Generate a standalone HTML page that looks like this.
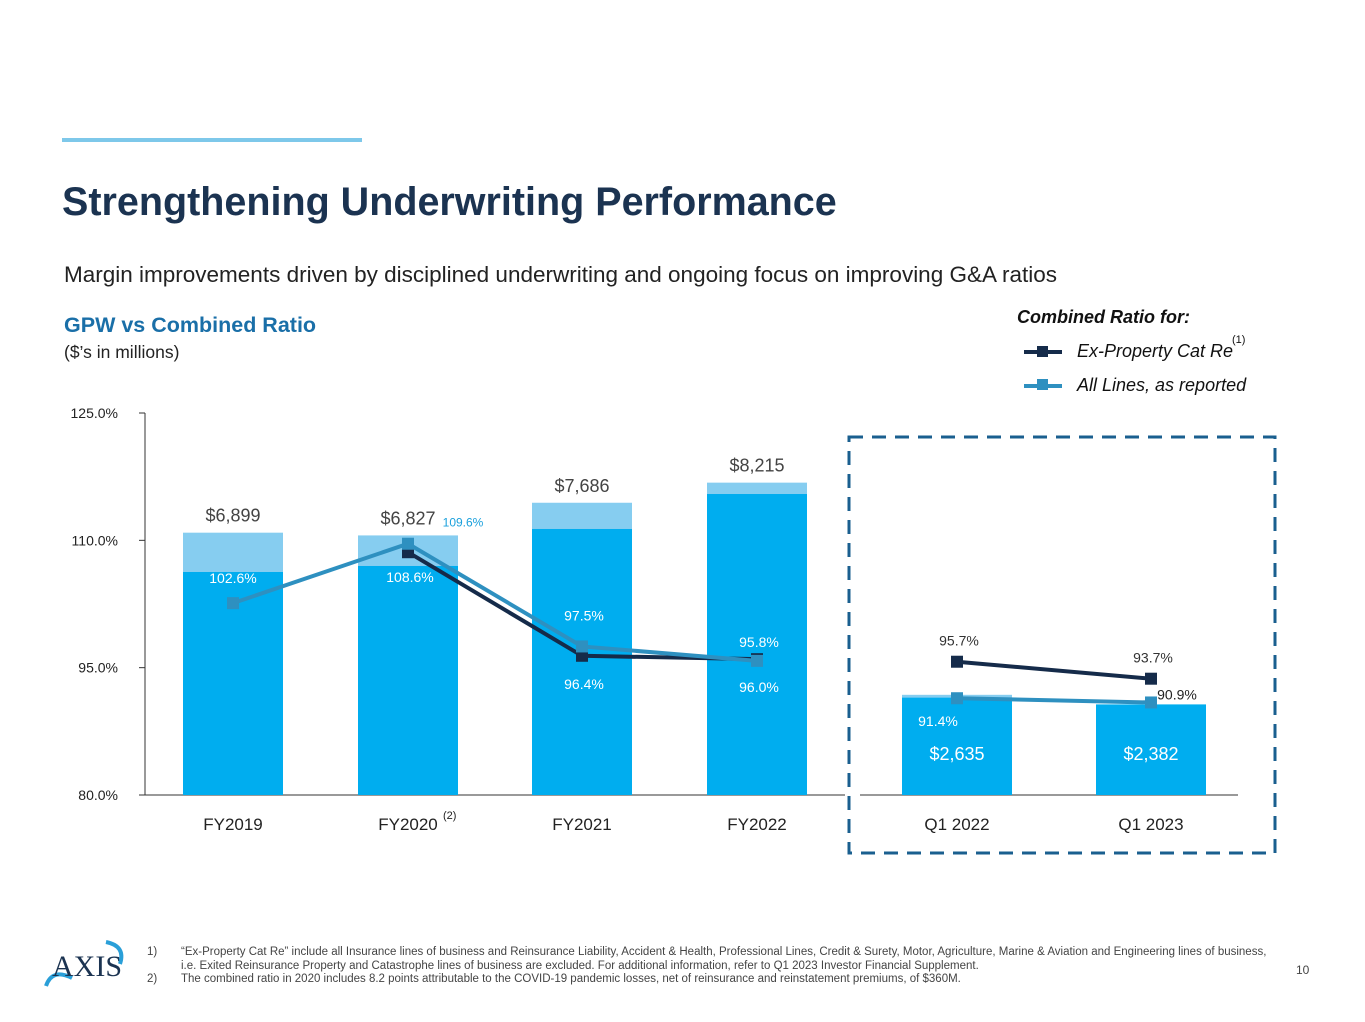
<!DOCTYPE html>
<html><head><meta charset="utf-8">
<style>
body{margin:0;width:1365px;height:1022px;background:#fff;font-family:"Liberation Sans",sans-serif;position:relative;overflow:hidden}
.abs{position:absolute}
</style></head><body>
<div class="abs" style="left:62px;top:138px;width:300px;height:4px;background:#7ec8ea"></div>
<div class="abs" style="left:62px;top:180px;font-size:39.5px;font-weight:bold;color:#1b3351">Strengthening Underwriting Performance</div>
<div class="abs" style="left:64px;top:262px;font-size:22.5px;color:#222">Margin improvements driven by disciplined underwriting and ongoing focus on improving G&amp;A ratios</div>
<div class="abs" style="left:64px;top:313px;font-size:21.5px;font-weight:bold;color:#1a6fa8">GPW vs Combined Ratio</div>
<div class="abs" style="left:64px;top:342px;font-size:17.5px;color:#222">($’s in millions)</div>
<div class="abs" style="left:1017px;top:307px;font-size:18px;font-weight:bold;font-style:italic;color:#111">Combined Ratio for:</div>
<div class="abs" style="left:1024px;top:340px;width:280px;height:24px">
 <div class="abs" style="left:0;top:10px;width:38px;height:4px;background:#152b4a"></div>
 <div class="abs" style="left:13px;top:6px;width:11px;height:11px;background:#152b4a"></div>
 <div class="abs" style="left:53px;top:1px;font-size:18px;font-style:italic;color:#111">Ex-Property Cat Re</div>
 <div class="abs" style="left:208px;top:-6px;font-size:11px;color:#111">(1)</div>
</div>
<div class="abs" style="left:1024px;top:374px;width:280px;height:24px">
 <div class="abs" style="left:0;top:10px;width:38px;height:4px;background:#2e90c0"></div>
 <div class="abs" style="left:13px;top:5px;width:11px;height:11px;background:#2e90c0"></div>
 <div class="abs" style="left:53px;top:1px;font-size:18px;font-style:italic;color:#111">All Lines, as reported</div>
</div>
<svg class="abs" style="left:0;top:0" width="1365" height="1022" id="chart"></svg>
<div class="abs" style="left:42px;top:938px;width:84px;height:52px">
 <svg width="84" height="52"><path d="M4 48 Q10 30 30 40" stroke="#2a9fd8" stroke-width="4" fill="none"/><path d="M64 4 Q84 8 78 26" stroke="#2a9fd8" stroke-width="4" fill="none"/>
 <text x="10" y="38" font-family="Liberation Serif" font-size="30" fill="#1b3351">AXIS</text></svg>
</div>
<div class="abs" style="left:147px;top:946px;width:1125px;font-size:11.5px;line-height:13.5px;color:#444">
 <div style="position:relative;padding-left:34px"><span class="abs" style="left:0">1)</span>“Ex-Property Cat Re” include all Insurance lines of business and Reinsurance Liability, Accident &amp; Health, Professional Lines, Credit &amp; Surety, Motor, Agriculture, Marine &amp; Aviation and Engineering lines of business, i.e. Exited Reinsurance Property and Catastrophe lines of business are excluded. For additional information, refer to Q1 2023 Investor Financial Supplement.</div>
 <div style="position:relative;padding-left:34px"><span class="abs" style="left:0">2)</span>The combined ratio in 2020 includes 8.2 points attributable to the COVID-19 pandemic losses, net of reinsurance and reinstatement premiums, of $360M.</div>
</div>
<div class="abs" style="left:1296px;top:963px;font-size:12px;color:#444">10</div>
<script>
const categories=["FY2019","FY2020","FY2021","FY2022","Q1 2022","Q1 2023"];
const gpwTotal=[6899,6827,7686,8215,2635,2382];
const gpwLower=[5865,6023,6996,7916,2560,2382];
const gpwLabels=["$6,899","$6,827","$7,686","$8,215","$2,635","$2,382"];
const allLines=[102.6,109.6,97.5,95.8,91.4,90.9];
const exCat=[null,108.6,96.4,96.0,95.7,93.7];
const yTicks=[80,95,110,125];
const svg=document.getElementById('chart');
const NS='http://www.w3.org/2000/svg';
function mk(t,a,txt){const e=document.createElementNS(NS,t);for(const k in a)e.setAttribute(k,a[k]);if(txt!=null)e.textContent=txt;svg.appendChild(e);return e;}
const xc=[233,408,582,757,957,1151];
const bw=[100,100,100,100,110,110];
const base=795;
function yP(v){return 795-(v-80)*382/45;}
function hB(v){return v/26.3;}
let e=mk('line',{x1:145,y1:413,x2:145,y2:795,stroke:'#333','stroke-width':1});

e=mk('line',{x1:145,y1:795,x2:845,y2:795,stroke:'#333','stroke-width':1});

e=mk('line',{x1:860,y1:795,x2:1238,y2:795,stroke:'#333','stroke-width':1});

yTicks.forEach(t=>{
 const y=yP(t);
 e=mk('line',{x1:139,y1:y,x2:145,y2:y,stroke:'#333'});
 
 e=mk('text',{x:118,y:y+5,'text-anchor':'end','font-size':14,fill:'#222'},t.toFixed(1)+'%');
 
});
categories.forEach((c,i)=>{
 const ht=hB(gpwTotal[i]),hl=hB(gpwLower[i]);
 e=mk('rect',{x:xc[i]-bw[i]/2,y:base-ht,width:bw[i],height:ht,fill:'#86cdf0'});
 
 e=mk('rect',{x:xc[i]-bw[i]/2,y:base-hl,width:bw[i],height:hl,fill:'#00adef'});
 
 e=mk('text',{x:xc[i],y:830,'text-anchor':'middle','font-size':17,fill:'#222'},c);
 
 if(i<4){e=mk('text',{x:xc[i],y:base-ht-11,'text-anchor':'middle','font-size':18,fill:'#444'},gpwLabels[i]);}
 else{e=mk('text',{x:xc[i],y:760,'text-anchor':'middle','font-size':18,fill:'#fff'},gpwLabels[i]);}
 
});
e=mk('text',{x:443,y:819,'font-size':11,fill:'#222'},'(2)');

function line(arr,idx,color,name){
 const pts=idx.filter(i=>arr[i]!=null).map(i=>xc[i]+','+yP(arr[i])).join(' ');
 e=mk('polyline',{points:pts,fill:'none',stroke:color,'stroke-width':4});
 
 idx.forEach(i=>{if(arr[i]==null)return;
  e=mk('rect',{x:xc[i]-6,y:yP(arr[i])-6,width:12,height:12,fill:color});
  });
}
line(exCat,[0,1,2,3],'#152b4a','ex-cat-line');
line(exCat,[4,5],'#152b4a','ex-cat-line-q1');
line(allLines,[0,1,2,3],'#2e90c0','all-lines-line');
line(allLines,[4,5],'#2e90c0','all-lines-line-q1');
const lbl=[
 [allLines[0],0,0,-20,'#fff'],[allLines[1],1,55,-17,'#1aa0dc'],[allLines[2],2,2,-26,'#fff'],[allLines[3],3,2,-14,'#fff'],
 [allLines[4],4,-19,28,'#fff'],[allLines[5],5,26,-3,'#222'],
 [exCat[1],1,2,30,'#fff'],[exCat[2],2,2,33,'#fff'],[exCat[3],3,2,33,'#fff'],[exCat[4],4,2,-16,'#333'],[exCat[5],5,2,-16,'#333']];
lbl.forEach(l=>{
 const sz=l[4]=='#1aa0dc'?12:14;
 e=mk('text',{x:xc[l[1]]+l[2],y:yP(l[0])+l[3],'text-anchor':'middle','font-size':sz,fill:l[4]},l[0].toFixed(1)+'%');
 
});
e=mk('rect',{x:849,y:437,width:426,height:416,fill:'none',stroke:'#1a5f8f','stroke-width':3,'stroke-dasharray':'14 9'});

</script>
</body></html>
